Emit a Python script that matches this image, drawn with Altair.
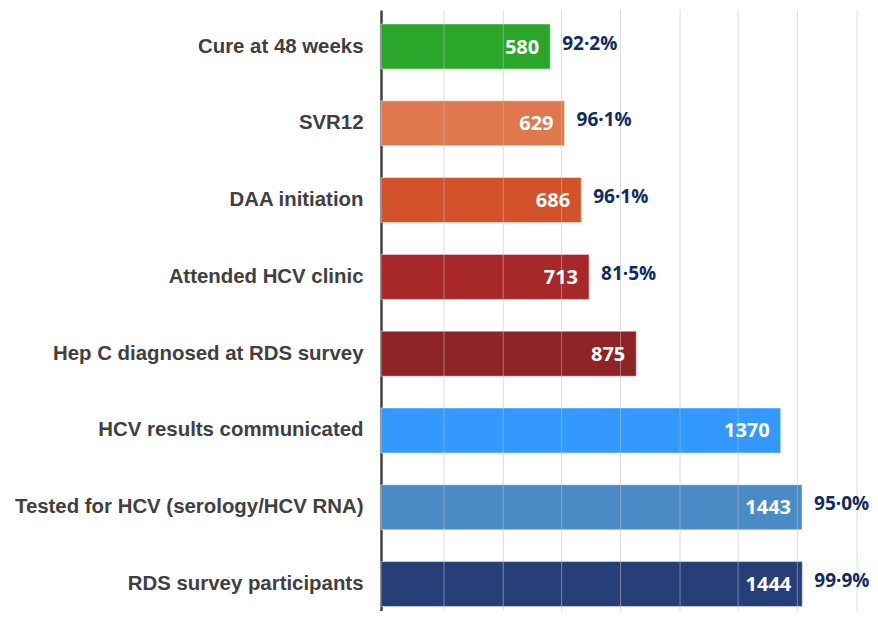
import altair as alt
import pandas as pd

stages = [
    "Cure at 48 weeks",
    "SVR12",
    "DAA initiation",
    "Attended HCV clinic",
    "Hep C diagnosed at RDS survey",
    "HCV results communicated",
    "Tested for HCV (serology/HCV RNA)",
    "RDS survey participants",
]
counts = [580, 629, 686, 713, 875, 1370, 1443, 1444]
pcts = ["92·2%", "96·1%", "96·1%", "81·5%", "", "", "95·0%", "99·9%"]
colors = ["#2aa62a", "#df784d", "#d4522a", "#a82829", "#8e2426",
          "#3399ff", "#4b8bc5", "#263f78"]
grid_values = [216, 419, 619, 821, 1025, 1224, 1427, 1632]

df = pd.DataFrame({"stage": stages, "count": counts, "pct": pcts, "color": colors})
grid_df = pd.DataFrame({"g": grid_values})

x_scale = alt.Scale(domain=[0, 1676], nice=False, zero=True)
y_scale = alt.Scale(domain=stages, paddingInner=0.414, paddingOuter=0.12, align=0.76)

base = alt.Chart(df)

bars = base.mark_bar(stroke="white", strokeOpacity=0.45, strokeWidth=1).encode(
    x=alt.X("count:Q", scale=x_scale, axis=None),
    y=alt.Y("stage:N", scale=y_scale, sort=stages,
            axis=alt.Axis(title=None, ticks=False, grid=False,
                          labelFont="Liberation Sans", labelFontWeight="bold",
                          labelFontSize=20.4, labelColor="#404040",
                          labelPadding=18, labelLimit=0,
                          domainColor="#404040", domainWidth=2.5)),
    color=alt.Color("color:N", scale=None),
)

grid = alt.Chart(grid_df).mark_rule(color="#bfbfbf", opacity=0.55, strokeWidth=1).encode(
    x=alt.X("g:Q", scale=x_scale, axis=None)
)

inner = base.mark_text(align="right", baseline="middle", dx=-11, dy=1,
                       font="Open Sans", fontWeight="bold", fontSize=20,
                       color="white").encode(
    x=alt.X("count:Q", scale=x_scale, axis=None),
    y=alt.Y("stage:N", scale=y_scale, sort=stages),
    text="count:Q",
)

outer = base.mark_text(align="left", baseline="middle", dx=12, dy=-3,
                       font="Open Sans", fontWeight="bold", fontSize=19,
                       color="#0f2b63").encode(
    x=alt.X("count:Q", scale=x_scale, axis=None),
    y=alt.Y("stage:N", scale=y_scale, sort=stages),
    text="pct:N",
)

chart = alt.layer(bars, grid, inner, outer).properties(
    width=489, height=601,
    autosize=alt.AutoSizeParams(type="none"),
    padding={"left": 373, "top": 2, "right": 0, "bottom": 0},
).configure(background="white").configure_view(stroke=None)

chart.save("out.html", embed_options={"renderer": "svg", "actions": False})
